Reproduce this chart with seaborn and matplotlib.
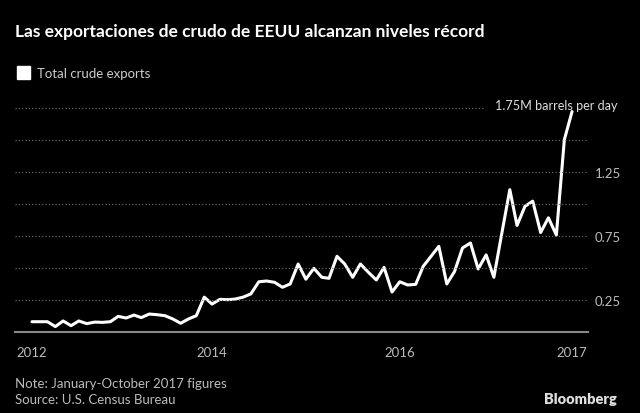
import pandas as pd
import seaborn as sns
import matplotlib.pyplot as plt
from matplotlib.patches import Rectangle
from matplotlib.transforms import blended_transform_factory

# monthly crude exports, million barrels per day (Jan 2012 - Oct 2017)
months = pd.date_range("2012-01-01", periods=70, freq="MS")
exports = [0.078, 0.078, 0.078, 0.040, 0.084, 0.047, 0.084, 0.063, 0.075, 0.073,
           0.078, 0.120, 0.107, 0.130, 0.110, 0.138, 0.133, 0.125, 0.100, 0.066,
           0.100, 0.125, 0.270, 0.216, 0.253, 0.250, 0.255, 0.270, 0.295, 0.390,
           0.396, 0.386, 0.347, 0.373, 0.529, 0.410, 0.495, 0.425, 0.417, 0.589,
           0.529, 0.425, 0.529, 0.464, 0.404, 0.503, 0.310, 0.390, 0.365, 0.370,
           0.510, 0.590, 0.667, 0.373, 0.470, 0.654, 0.693, 0.490, 0.600, 0.425,
           0.770, 1.110, 0.830, 0.980, 1.020, 0.775, 0.890, 0.755, 1.500, 1.720]

grid_levels = [0.25, 0.5, 0.75, 1.0, 1.25, 1.5, 1.75]
y_labels = ["0.25", "", "0.75", "", "1.25", "", ""]
x_tick_dates = ["2012-01-01", "2013-12-01", "2015-12-01", "2017-10-01"]
x_tick_labels = ["2012", "2014", "2016", "2017"]

df = pd.DataFrame({"month": months, "exports": exports})

sns.set_style("dark", {"axes.facecolor": "black", "figure.facecolor": "black"})
plt.rcParams["font.family"] = ["Lato", "DejaVu Sans"]

fig = plt.figure(figsize=(6.4, 4.14), dpi=100)
ax = fig.add_axes([15 / 640, 81.3 / 414, 573 / 640, 230.4 / 414])

sns.lineplot(data=df, x="month", y="exports", color="white", linewidth=2.2, ax=ax)

ax.set_xlim(months[0] - pd.Timedelta(days=66), months[-1] + pd.Timedelta(days=62))
ax.set_ylim(0, 1.8)

# dotted gridlines, the top one stops before the annotation
for lvl in grid_levels:
    xmax = 0.82 if lvl == 1.75 else 1.0
    ax.axhline(lvl, xmin=0, xmax=xmax, color="#777777", ls=(0, (1, 2)), lw=0.8)

ax.set_yticks(grid_levels)
ax.set_yticklabels(y_labels)
ax.yaxis.tick_right()
ax.tick_params(axis="y", length=0, pad=5, labelsize=9.5, labelcolor="#bbbbbb")

ax.set_xticks(pd.to_datetime(x_tick_dates))
ax.set_xticklabels(x_tick_labels)
ax.tick_params(axis="x", length=5, width=1, color="#888888", pad=5,
               labelsize=9.5, labelcolor="#bbbbbb")

for side in ["top", "left", "right"]:
    ax.spines[side].set_visible(False)
ax.spines["bottom"].set_color("#888888")
ax.spines["bottom"].set_linewidth(1.5)
ax.set_xlabel("")
ax.set_ylabel("")
ax.grid(False)

trans = blended_transform_factory(ax.transAxes, ax.transData)
ax.text(1.052, 1.77, "1.75M barrels per day", transform=trans, ha="right",
        va="center", fontsize=9.1, color="#dddddd")

fig.text(15 / 640, 1 - 32 / 414, "Las exportaciones de crudo de EEUU alcanzan niveles récord",
         fontsize=12.5, fontweight="bold", color="white", va="center")
fig.add_artist(Rectangle((17 / 640, 1 - 80 / 414), 13 / 640, 13 / 414,
                         transform=fig.transFigure, color="white"))
fig.text(37 / 640, 1 - 73.5 / 414, "Total crude exports", fontsize=9.5,
         color="#cccccc", va="center")

fig.text(15 / 640, 1 - 384 / 414, "Note: January-October 2017 figures",
         fontsize=9.5, color="#bbbbbb", va="center")
fig.text(15 / 640, 1 - 400 / 414, "Source: U.S. Census Bureau",
         fontsize=9.5, color="#bbbbbb", va="center")
fig.text(617 / 640, 1 - 400 / 414, "Bloomberg", fontsize=10.5, fontweight="heavy",
         color="#dddddd", ha="right", va="center")

fig.savefig("out.png", dpi=100, facecolor="black")
